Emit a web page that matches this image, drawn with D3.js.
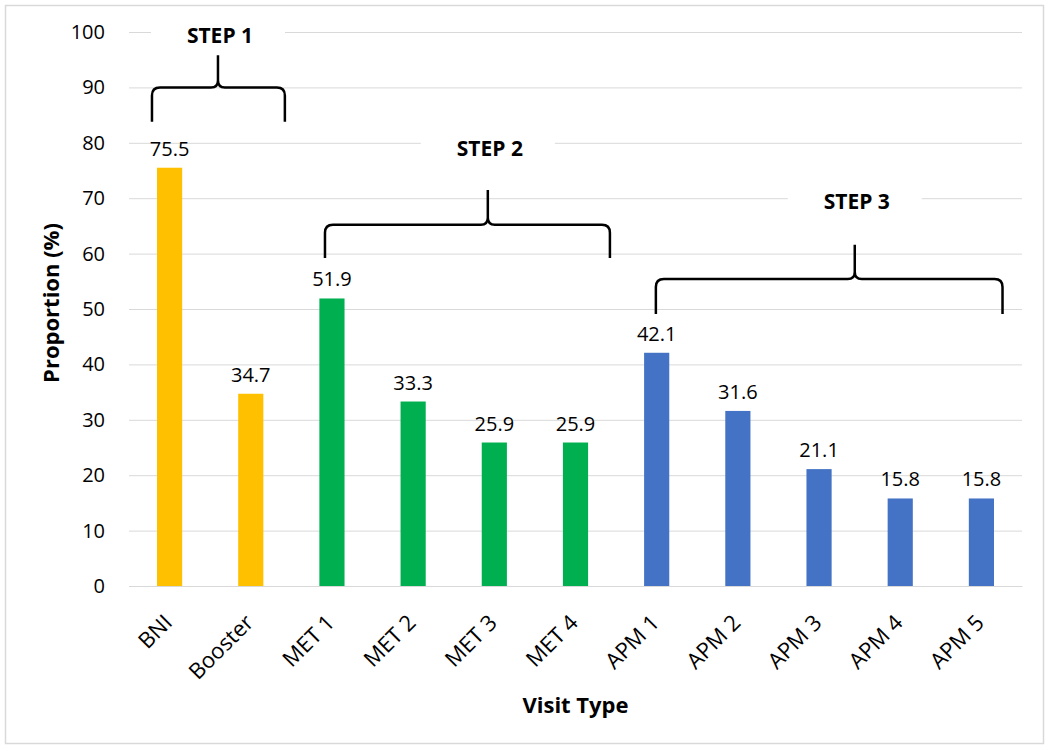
<!DOCTYPE html>
<html><head><meta charset="utf-8">
<script src="https://cdn.jsdelivr.net/npm/d3@7"></script>
<style>body{margin:0;background:#fff}svg{display:block}text{font-family:"Open Sans",sans-serif;fill:#000}</style>
</head><body>
<script>
const categories = ["BNI","Booster","MET 1","MET 2","MET 3","MET 4","APM 1","APM 2","APM 3","APM 4","APM 5"];
const values = [75.5,34.7,51.9,33.3,25.9,25.9,42.1,31.6,21.1,15.8,15.8];
const groupOf = [0,0,1,1,1,1,2,2,2,2,2];
const groupColors = ["#FFC000","#00B050","#4472C4"];
const yTicks = [0,10,20,30,40,50,60,70,80,90,100];
// step annotations (positions in category-index units and data units)
const stepLabels = ["STEP 1","STEP 2","STEP 3"];
const stepStart = [-0.217,1.914,5.99];
const stepEnd = [1.42,5.424,10.26];
const stepPeak = [0.596,3.92,8.44];
const stepLevel = [90,65.2,55.4];
const stepBottom = [83.8,59.2,49.1];
const stepTop = [95.8,71.5,61.6];
const stepText = [98.0,77.6,68.05];

const W=1050,H=753;
const m={left:129,right:1022,top:32,bottom:586};
const svg=d3.select("body").append("svg").attr("width",W).attr("height",H);
svg.append("rect").attr("x",5.5).attr("y",5.5).attr("width",1038).attr("height",738)
  .attr("fill","#fff").attr("stroke","#d9d9d9").attr("stroke-width",1.5);

const x=d3.scaleBand().domain(categories).range([m.left,m.right]).paddingInner(0.69).paddingOuter(0.345);
const xi=d3.scaleLinear().domain([-0.5,categories.length-0.5]).range([m.left,m.right]);
const y=d3.scaleLinear().domain([0,100]).range([m.bottom,m.top]);

// gridlines
const yAxis=d3.axisLeft(y).tickValues(yTicks).tickSize(-(m.right-m.left)).tickFormat(d3.format("d"));
const gy=svg.append("g").attr("transform",`translate(${m.left},0)`).call(yAxis);
gy.select(".domain").remove();
gy.selectAll(".tick line").attr("stroke","#d9d9d9").attr("stroke-width",1);
gy.selectAll(".tick text").attr("x",-24).attr("font-size",20).attr("font-family","Open Sans");

// bars
svg.append("g").selectAll("rect").data(values).join("rect")
  .attr("x",(d,i)=>x(categories[i])).attr("width",x.bandwidth())
  .attr("y",d=>y(d)).attr("height",d=>y(0)-y(d))
  .attr("fill",(d,i)=>groupColors[groupOf[i]]);

// value labels
svg.append("g").selectAll("text").data(values).join("text")
  .attr("x",(d,i)=>x(categories[i])+x.bandwidth()/2).attr("y",d=>y(d)-12)
  .attr("text-anchor","middle").attr("font-size",20).text(d=>d.toFixed(1));

// x axis
const xAxis=d3.axisBottom(x).tickSize(0).tickPadding(0);
const gx=svg.append("g").attr("transform",`translate(0,${m.bottom})`).call(xAxis);
gx.select(".domain").attr("stroke","#d9d9d9");
gx.selectAll(".tick text").attr("font-size",22).attr("font-family","Open Sans").attr("text-anchor","end")
  .attr("dy",0).attr("transform","translate(4,38) rotate(-45)");

// axis titles
svg.append("text").attr("transform",`translate(59,303) rotate(-90)`)
  .attr("text-anchor","middle").attr("font-size",22).attr("font-weight","bold").text("Proportion (%)");
svg.append("text").attr("x",(m.left+m.right)/2).attr("y",713)
  .attr("text-anchor","middle").attr("font-size",22).attr("font-weight","bold").text("Visit Type");

// step braces
const ann=svg.append("g");
stepLabels.forEach((lab,k)=>{
  const xL=xi(stepStart[k]), xR=xi(stepEnd[k]), xP=xi(stepPeak[k]);
  const yH=y(stepLevel[k]), yB=y(stepBottom[k]), yT=y(stepTop[k]);
  const r=8, r2=7;
  const p=d3.path();
  p.moveTo(xL,yB); p.lineTo(xL,yH+r); p.quadraticCurveTo(xL,yH,xL+r,yH);
  p.lineTo(xP-r2,yH); p.quadraticCurveTo(xP,yH,xP,yH-r2); p.lineTo(xP,yT);
  p.moveTo(xP,yH-r2); p.quadraticCurveTo(xP,yH,xP+r2,yH);
  p.lineTo(xR-r,yH); p.quadraticCurveTo(xR,yH,xR,yH+r); p.lineTo(xR,yB);
  ann.append("path").attr("d",p.toString()).attr("fill","none").attr("stroke","#000").attr("stroke-width",2.5);
  const ty=y(stepText[k]);
  ann.append("rect").attr("x",xP-67).attr("y",ty-22).attr("width",134).attr("height",28).attr("fill","#fff");
  ann.append("text").attr("x",xP+2).attr("y",ty).attr("text-anchor","middle").attr("font-size",21)
    .attr("font-weight","bold").text(lab);
});
</script>
</body></html>
